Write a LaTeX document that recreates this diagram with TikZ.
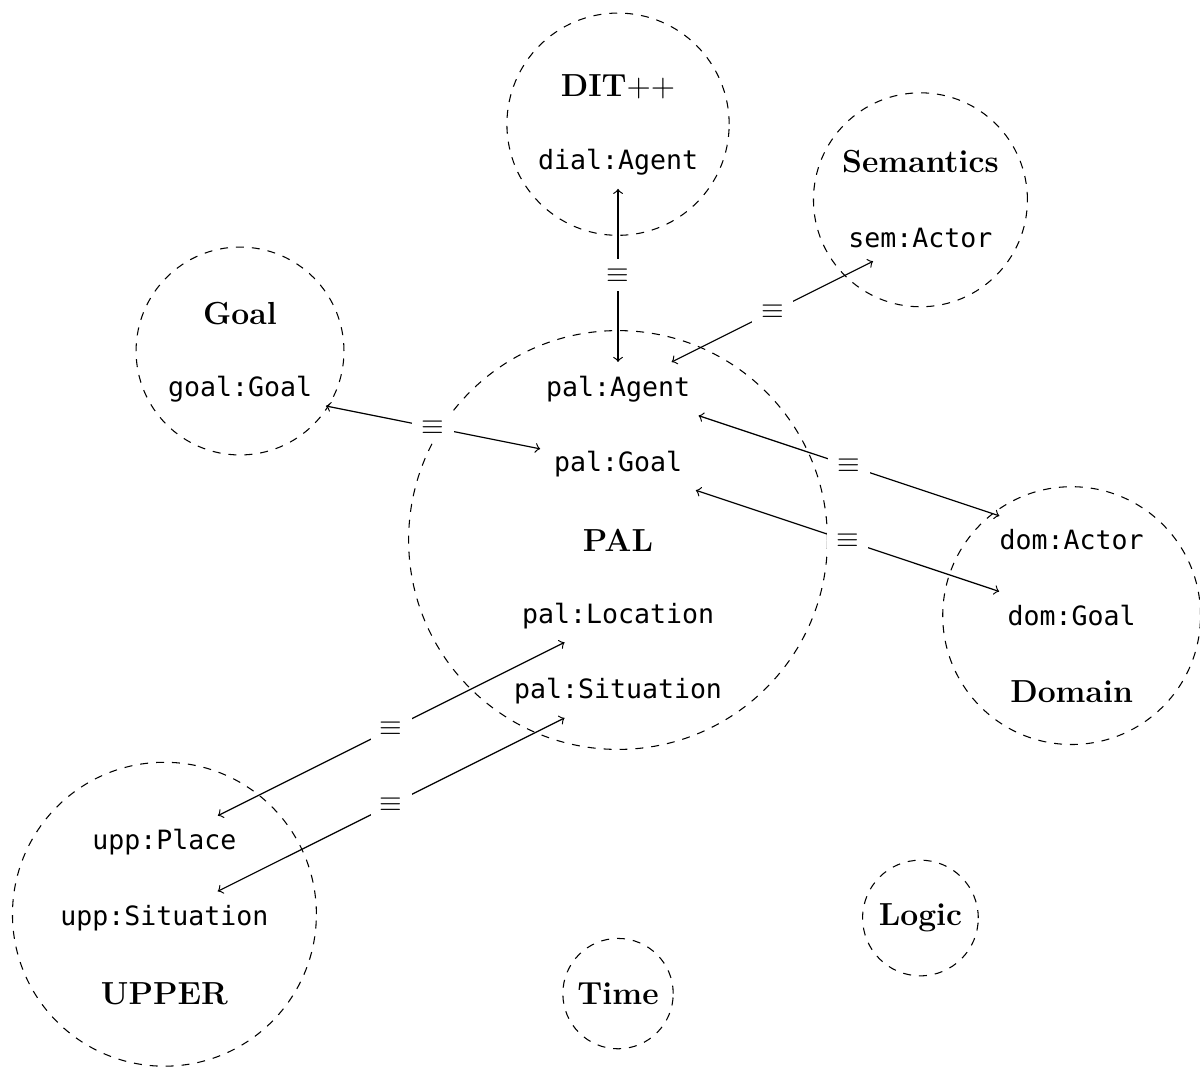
\documentclass[tikz,border=0pt]{standalone}
\usepackage{fontspec}
\setmonofont{DejaVu Sans Mono}

\begin{document}
\begin{tikzpicture}[
	module/.style={draw, dashed, circle, inner sep=0pt},
	modname/.style={font=\large\bfseries},
	term/.style={font=\ttfamily, inner sep=5pt},
	eqv/.style={fill=white, inner sep=3.5pt, font=\fontsize{11}{13}\selectfont},
	>=to
]
	\useasboundingbox (-8.175,-6.958) rectangle (7.698,7.143);

	%% Module (Kreise)
	\node[module, minimum size=2.94cm] (ditc) at (0,5.5) {};
	\node[module, minimum size=2.83cm] (semc) at (4,4.5) {};
	\node[module, minimum size=2.75cm] (goalc) at (-5,2.5) {};
	\node[module, minimum size=5.54cm] (palc) at (0,0) {};
	\node[module, minimum size=3.41cm] (domc) at (6,-1) {};
	\node[module, minimum size=4.02cm] (uppc) at (-6,-4.95) {};
	\node[module, minimum size=1.46cm] (timec) at (0,-6) {};
	\node[module, minimum size=1.53cm] (logicc) at (4,-5) {};

	%% Modulnamen
	\node[modname] (dit) at (0,6) {DIT$++$};
	\node[modname] (sem) at (4,5) {Semantics};
	\node[modname] (goal) at (-5,3) {Goal};
	\node[modname] (pal) at (0,0) {PAL};
	\node[modname] (dom) at (6,-2) {Domain};
	\node[modname] (upp) at (-6,-6) {UPPER};
	\node[modname] (time) at (0,-6) {Time};
	\node[modname] (logic) at (4,-5) {Logic};

	%%%%%%%%%%%%%%%%

	%% Begriffe
	\node[term] (dialAgent) at (0,5) {dial:Agent};
	\node[term] (semActor) at (4,4) {sem:Actor};
	\node[term] (goalGoal) at (-5,2) {goal:Goal};

	\node[term] (palAgent) at (0,2) {pal:Agent};
	\node[term] (palGoal) at (0,1) {pal:Goal};
	\node[term] (palLocation) at (0,-1) {pal:Location};
	\node[term] (palSituation) at (0,-2) {pal:Situation};

	\node[term] (domActor) at (6,0) {dom:Actor};
	\node[term] (domGoal) at (6,-1) {dom:Goal};

	\node[term] (uppPlace) at (-6,-4) {upp:Place};
	\node[term] (uppSituation) at (-6,-5) {upp:Situation};

	%%%%%%%%%%%%%%%%

	%% Aequivalenzen
	\draw[<->, line width=0.45pt] (dialAgent) -- node[eqv] {$\equiv$} (palAgent);
	\draw[<->, line width=0.45pt] (semActor) -- node[eqv] {$\equiv$} (palAgent);
	\draw[<->, line width=0.45pt] (goalGoal) -- node[eqv] {$\equiv$} (palGoal);
	\draw[<->, line width=0.45pt] (palAgent) -- node[eqv] {$\equiv$} (domActor);
	\draw[<->, line width=0.45pt] (palGoal) -- node[eqv] {$\equiv$} (domGoal);
	\draw[<->, line width=0.45pt] (palLocation) -- node[eqv] {$\equiv$} (uppPlace);
	\draw[<->, line width=0.45pt] (palSituation) -- node[eqv] {$\equiv$} (uppSituation);
\end{tikzpicture}
\end{document}
